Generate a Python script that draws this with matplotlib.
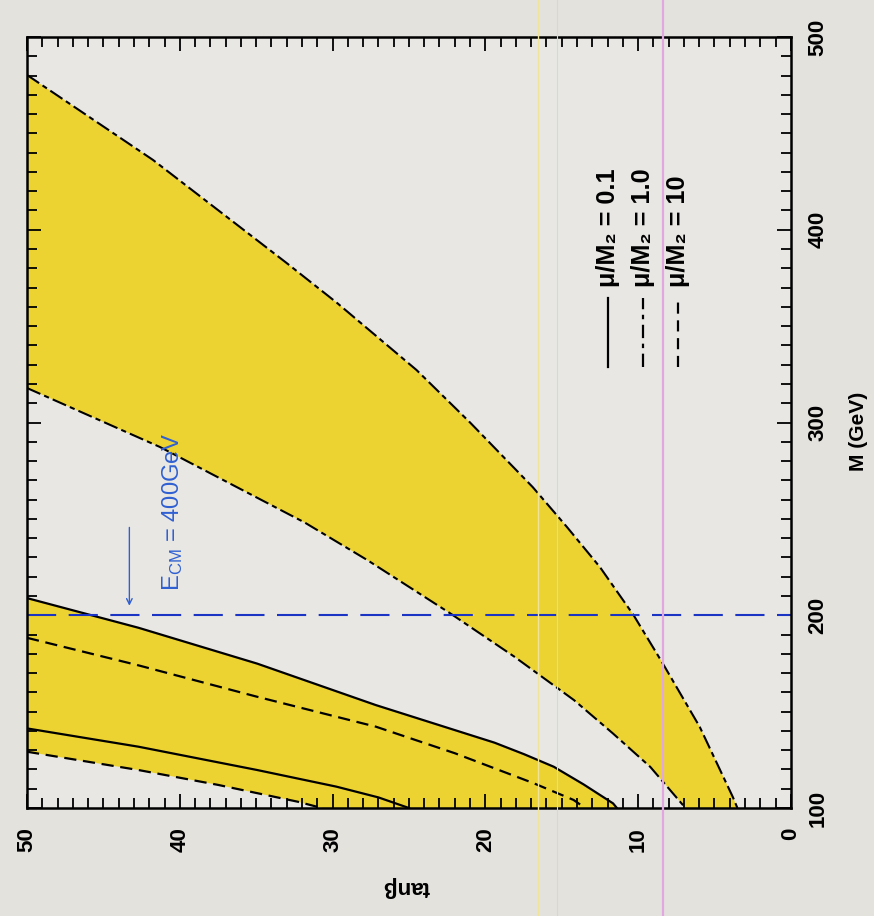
import numpy as np
import matplotlib.pyplot as plt
from matplotlib import font_manager
from matplotlib.lines import Line2D
from matplotlib.ticker import MultipleLocator

installed = {f.name for f in font_manager.fontManager.ttflist}
if 'Liberation Sans Narrow' in installed:
    face, scale = 'Liberation Sans Narrow', 1.0
else:
    face, scale = 'Liberation Sans', 0.85
plt.rcParams['font.family'] = [face, 'DejaVu Sans']
plt.rcParams['mathtext.fontset'] = 'custom'
plt.rcParams['mathtext.rm'] = face
plt.rcParams['mathtext.it'] = face + ':italic'

# ---------------------------------------------------------------------------
# curves read off the (rotated) picture: tan(beta) and M in GeV

# big band, upper boundary
a_tb = np.array([50.0, 41.75, 33.0, 29.7, 24.5, 21.0, 16.9, 14.66, 12.5, 10.3, 8.4, 5.96, 3.8, 3.5])
a_m = np.array([480.3, 436.2, 382.7, 362.0, 327.2, 300.0, 266.5, 245.8, 225.0, 200.1, 175.2, 142.0, 105.7, 100.0])

# big band, lower boundary
b_tb = np.array([50.0, 41.3, 31.8, 27.7, 22.3, 18.1, 14.2, 11.65, 9.2, 6.9])
b_m = np.array([317.9, 287.3, 248.0, 228.5, 201.0, 178.5, 156.0, 138.7, 121.3, 100.0])

# small band: mu/M2 = 0.1 (solid) and mu/M2 = 10 (dashed)
c_tb = np.array([50.0, 42.7, 34.93, 27.17, 19.4, 17.46, 15.52, 13.58, 11.64, 11.39])
c_m = np.array([208.9, 193.5, 174.9, 153.4, 133.9, 127.9, 121.4, 112.3, 102.4, 100.0])

d_tb = np.array([50.0, 42.7, 34.93, 27.17, 21.99, 16.82, 14.23, 13.46])
d_m = np.array([188.3, 174.0, 157.7, 142.2, 128.4, 112.8, 104.2, 100.0])

e_tb = np.array([50.0, 42.7, 34.93, 29.76, 27.0, 25.0])
e_m = np.array([141.3, 131.8, 119.7, 111.1, 105.5, 100.0])

f_tb = np.array([50.0, 42.7, 37.5, 32.3, 30.7])
f_m = np.array([129.2, 119.7, 112.0, 103.3, 100.0])

e_cm_mass = 200.0
legend_labels = ['μ/M₂ = 0.1', 'μ/M₂ = 1.0', 'μ/M₂ = 10']

# ---------------------------------------------------------------------------

yellow = '#ecd332'
blue = '#1b34c4'
text_blue = '#2f5fd2'
dashdot = (0, (7, 2, 2.5, 2))
dashed = (0, (5.5, 3))
fs = 19 * scale

fig = plt.figure(figsize=(8.74, 9.16), dpi=100, facecolor='#e4e2dd')
ax = fig.add_axes([0.0309, 0.1179, 0.874, 0.8417])
ax.set_facecolor('#e8e7e3')

ax.fill(np.concatenate([a_tb, b_tb[::-1]]), np.concatenate([a_m, b_m[::-1]]),
        color=yellow, lw=0)
ax.fill(np.concatenate([c_tb, f_tb[::-1]]), np.concatenate([c_m, f_m[::-1]]),
        color=yellow, lw=0)

ax.plot(a_tb, a_m, color='black', lw=1.5, ls=dashdot)
ax.plot(b_tb, b_m, color='black', lw=1.5, ls=dashdot)
ax.plot(c_tb, c_m, color='black', lw=1.6)
ax.plot(d_tb, d_m, color='black', lw=1.6, ls=dashed)
ax.plot(e_tb, e_m, color='black', lw=1.6)
ax.plot(f_tb, f_m, color='black', lw=1.6, ls=dashed)

ax.axhline(e_cm_mass, color=blue, lw=1.5, ls=(0, (14, 6)))
ax.annotate('', xy=(43.3, 203.5), xytext=(43.3, 247),
            arrowprops=dict(arrowstyle='->', color=text_blue, lw=1.0))
ax.text(40.5, 253.6, r'E$_{\rm CM}$ = 400GeV', color=text_blue, fontsize=fs + 1,
        rotation=90, ha='center', va='center')

# legend, drawn rotated like the rest of the page
leg_x = [0.760, 0.806, 0.852]
leg_styles = ['-', (0, (6, 2.5, 2, 2.5)), (0, (5, 3))]
for x, style, label in zip(leg_x, leg_styles, legend_labels):
    ax.plot([x, x], [0.572, 0.661], transform=ax.transAxes, color='black',
            lw=1.6, ls=style)
    ax.text(x, 0.676, label, transform=ax.transAxes, rotation=90,
            ha='center', va='bottom', fontsize=fs + 2, fontweight='bold')

ax.set_xlim(50, 0)
ax.set_ylim(100, 500)
ax.xaxis.set_major_locator(MultipleLocator(10))
ax.xaxis.set_minor_locator(MultipleLocator(1))
ax.yaxis.set_major_locator(MultipleLocator(100))
ax.yaxis.set_minor_locator(MultipleLocator(10))
ax.tick_params(which='both', direction='in', top=True, bottom=True,
               left=True, right=True, labelleft=False, labelright=True,
               width=1.3, labelsize=fs)
ax.tick_params(which='major', length=10)
ax.tick_params(which='minor', length=7)
ax.tick_params(axis='x', labelrotation=90, pad=14)
ax.tick_params(axis='y', labelrotation=90, pad=12)
for lab in ax.get_yticklabels():
    lab.set_va('center')
for lab in ax.get_xticklabels() + ax.get_yticklabels():
    lab.set_fontweight('bold')
for sp in ax.spines.values():
    sp.set_linewidth(1.8)

ax.set_xlabel('tanβ', fontsize=fs, rotation=180, va='center', fontweight='bold')
ax.xaxis.set_label_coords(0.497, -0.102)
ax.set_ylabel('M (GeV)', fontsize=fs - 1, rotation=90, va='center', fontweight='bold')
ax.yaxis.set_label_position('right')
ax.yaxis.set_label_coords(1.076, 0.488)

# faint scanner streaks across the page
for xf, col, lw in [(0.6156, '#efe49a', 1.0), (0.637, '#c6dfd8', 0.8),
                    (0.7586, '#e2a6e0', 1.6)]:
    fig.add_artist(Line2D([xf, xf], [0, 1], transform=fig.transFigure,
                          color=col, lw=lw, zorder=10))

fig.savefig('out.png', dpi=100, facecolor=fig.get_facecolor())
